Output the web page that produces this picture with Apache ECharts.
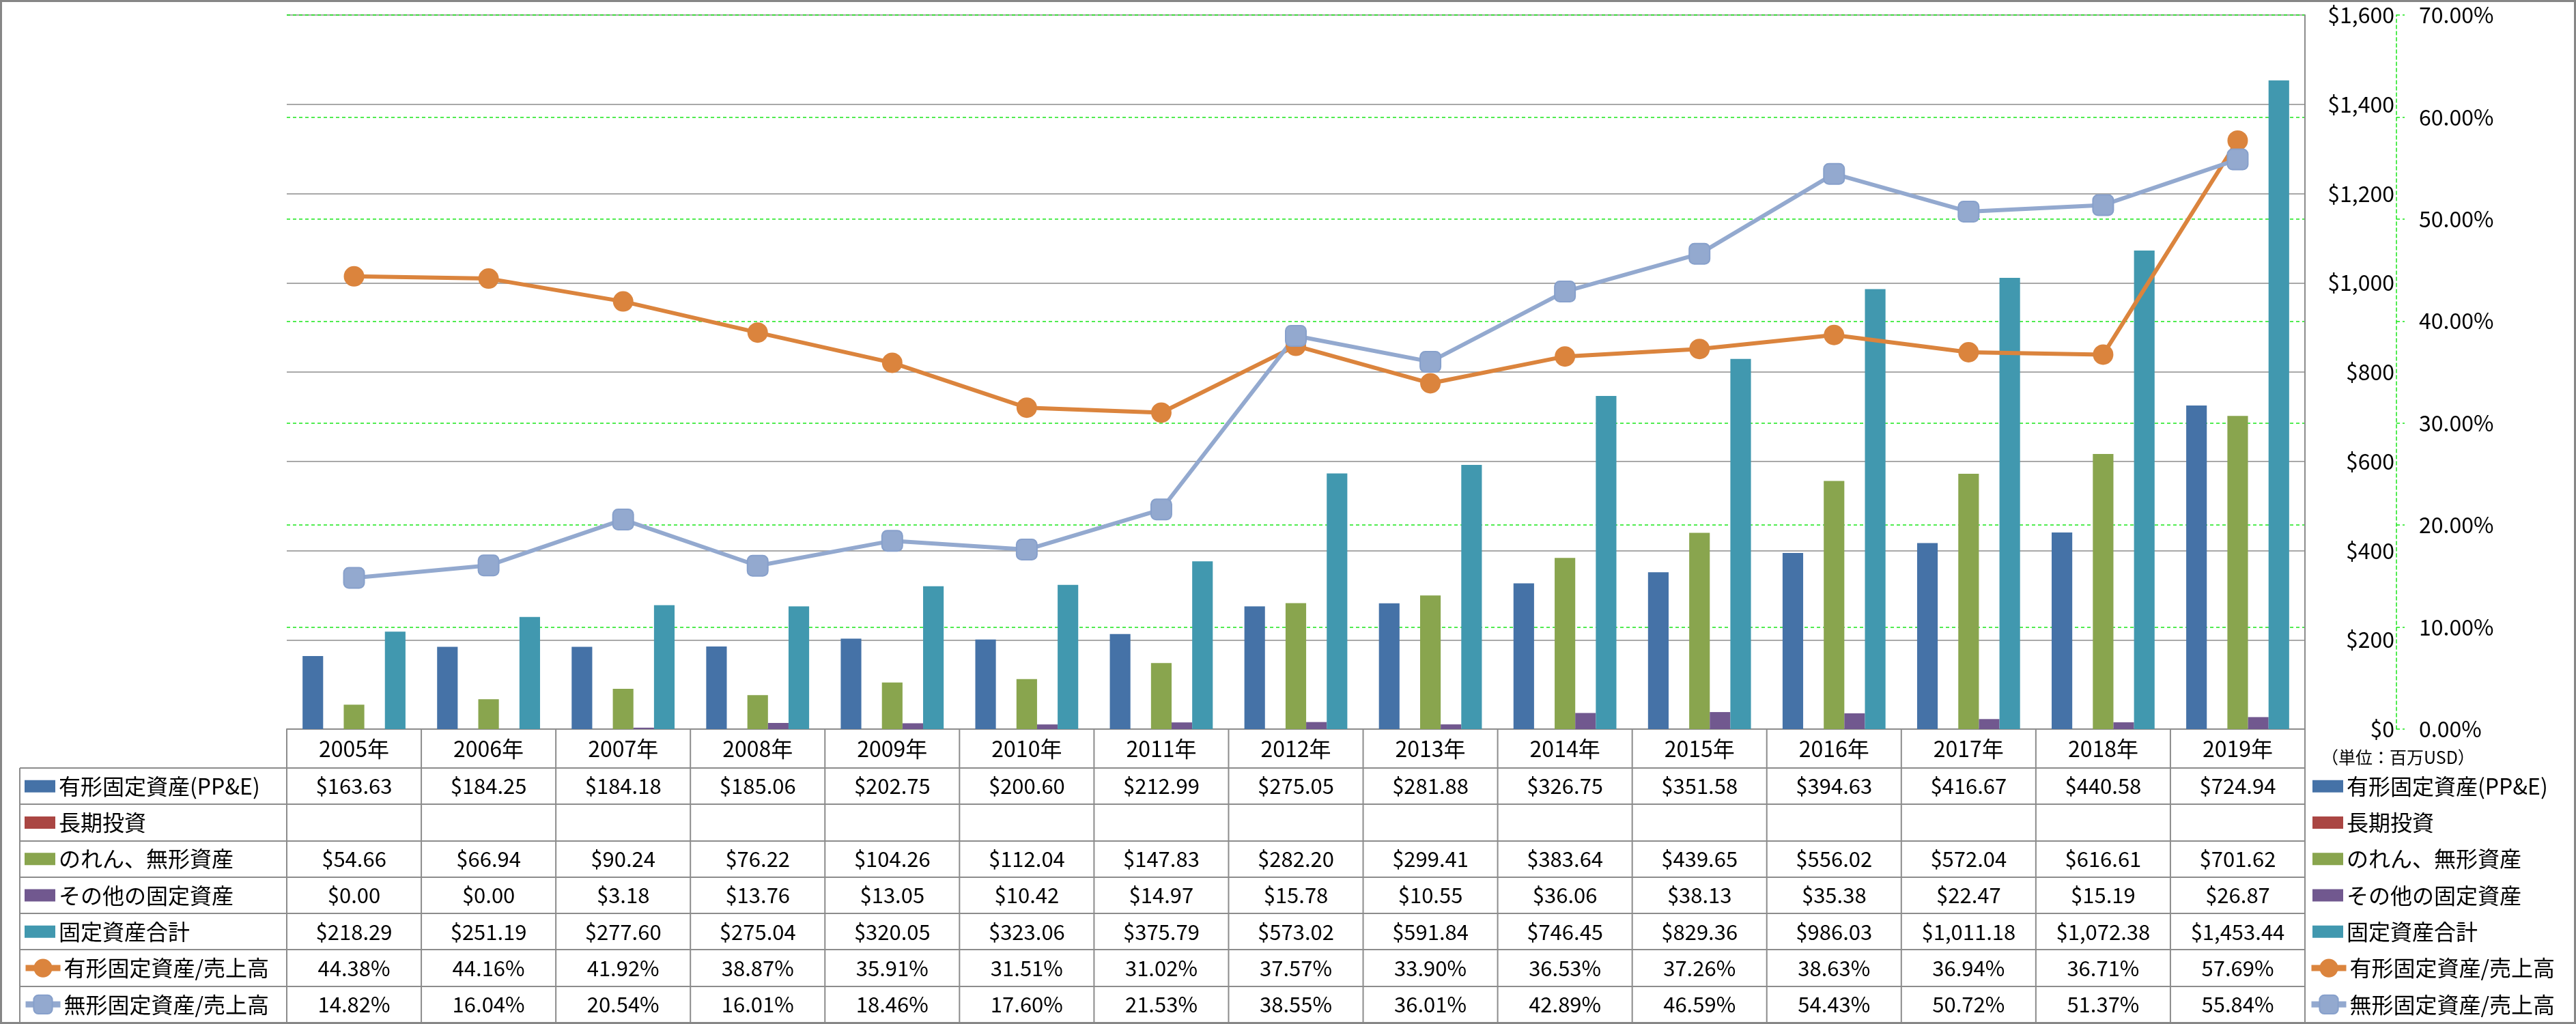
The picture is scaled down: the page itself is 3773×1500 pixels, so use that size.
<!DOCTYPE html>
<html><head><meta charset="utf-8">
<script src="https://cdn.jsdelivr.net/npm/echarts@6/dist/echarts.min.js"></script>
<style>html,body{margin:0;padding:0;background:#fff}#c{width:3773px;height:1500px}</style>
</head><body><div id="c"></div>
<script>
// ---- data ----
const years = ['2005年','2006年','2007年','2008年','2009年','2010年','2011年','2012年','2013年','2014年','2015年','2016年','2017年','2018年','2019年'];
const ppe = [163.63,184.25,184.18,185.06,202.75,200.60,212.99,275.05,281.88,326.75,351.58,394.63,416.67,440.58,724.94];
const longInvest = [null,null,null,null,null,null,null,null,null,null,null,null,null,null,null];
const goodwill = [54.66,66.94,90.24,76.22,104.26,112.04,147.83,282.20,299.41,383.64,439.65,556.02,572.04,616.61,701.62];
const otherFixed = [0.00,0.00,3.18,13.76,13.05,10.42,14.97,15.78,10.55,36.06,38.13,35.38,22.47,15.19,26.87];
const totalFixed = [218.29,251.19,277.60,275.04,320.05,323.06,375.79,573.02,591.84,746.45,829.36,986.03,1011.18,1072.38,1453.44];
const ppeRatio = [44.38,44.16,41.92,38.87,35.91,31.51,31.02,37.57,33.90,36.53,37.26,38.63,36.94,36.71,57.69];
const intangRatio = [14.82,16.04,20.54,16.01,18.46,17.60,21.53,38.55,36.01,42.89,46.59,54.43,50.72,51.37,55.84];
const barNames = ['有形固定資産(PP&E)','長期投資','のれん、無形資産','その他の固定資産','固定資産合計'];
const lineNames = ['有形固定資産/売上高','無形固定資産/売上高'];
const unitLabel = '（単位：百万USD）';

// ---- styles / layout ----
const FONT = "'Noto Sans CJK JP','Noto Sans',sans-serif";
const barColors = ['#4572A7','#AA4643','#89A54E','#71588F','#4198AF'];
const lineColors = ['#DB843D','#93A9CF'];
const W = 3773, H = 1500;
const GL = 420, GR = 3376, GT = 22, AXY = 1068;
const ROW_TOP = 1125, ROW_H = (1498 - 1125) / 7, TABLE_L = 29;
const GRAY = '#8c8c8c', GREEN = '#19e619';

const money = v => v == null ? '' : '$' + v.toLocaleString('en-US', {minimumFractionDigits: 2, maximumFractionDigits: 2});
const pct = v => v == null ? '' : v.toFixed(2) + '%';

const chart = echarts.init(document.getElementById('c'), null, {renderer: 'canvas'});

const barSeries = [ppe, longInvest, goodwill, otherFixed, totalFixed].map((d, i) => ({
  type: 'bar', name: barNames[i], data: d, yAxisIndex: 0,
  barGap: '0%', barCategoryGap: '23.5%',
  itemStyle: {color: barColors[i]}
}));
const lineSeries = [ppeRatio, intangRatio].map((d, i) => ({
  type: 'line', name: lineNames[i], data: d, yAxisIndex: 1,
  symbol: i === 0 ? 'circle' : 'roundRect', symbolSize: 30,
  lineStyle: {width: 6, color: lineColors[i]},
  itemStyle: {color: lineColors[i], borderColor: i === 0 ? lineColors[i] : '#87a0cb', borderWidth: i === 0 ? 0 : 2},
  z: 5
}));

const legendText = {fontSize: 32, color: '#000', lineHeight: 36, fontFamily: FONT};
function barLegend(left) {
  return {data: barNames.map(n => ({name: n, icon: 'rect'})), orient: 'vertical', left: left, top: ROW_TOP + ROW_H / 2 - 18,
    itemWidth: 45, itemHeight: 18, itemGap: ROW_H - 36, padding: 0, selectedMode: false, textStyle: legendText};
}
function lineLegend(left) {
  return {data: lineNames, orient: 'vertical', left: left, top: ROW_TOP + 5.5 * ROW_H - 18,
    itemWidth: 51, itemHeight: 34, itemGap: ROW_H - 36, padding: 0, selectedMode: false, textStyle: legendText,
    lineStyle: {width: 9}};
}

const option = {
  animation: false,
  backgroundColor: '#fff',
  textStyle: {fontFamily: FONT},
  grid: {left: GL, right: W - GR, top: GT, bottom: H - AXY, containLabel: false, outerBoundsMode: 'none'},
  legend: [barLegend(3387), lineLegend(3381), barLegend(36), lineLegend(33)],
  xAxis: {
    type: 'category', data: years,
    axisLine: {show: true, lineStyle: {color: GRAY, width: 2}},
    axisTick: {show: false},
    axisLabel: {interval: 0, fontSize: 32, color: '#000', margin: (ROW_TOP - AXY) / 2, verticalAlign: 'middle', fontFamily: FONT},
    splitLine: {show: false}
  },
  yAxis: [
    {type: 'value', min: 0, max: 1600, interval: 200, position: 'right',
     axisLine: {show: true, lineStyle: {color: GRAY, width: 2}}, axisTick: {show: false},
     axisLabel: {align: 'right', margin: 131, fontSize: 32, color: '#000', fontFamily: FONT,
       formatter: v => '$' + v.toLocaleString('en-US')},
     splitLine: {show: true, lineStyle: {color: GRAY, width: 1.5}}},
    {type: 'value', min: 0, max: 70, interval: 10, position: 'right', offset: 134,
     axisLine: {show: true, lineStyle: {color: GREEN, width: 1.5, type: [5, 4]}},
     axisTick: {show: true, length: 12, lineStyle: {color: GREEN, width: 1.5, type: [5, 4]}},
     axisLabel: {margin: 33, fontSize: 32, color: '#000', fontFamily: FONT, formatter: v => v.toFixed(2) + '%'},
     splitLine: {show: true, lineStyle: {color: GREEN, width: 1.5, type: [5, 4]}}}
  ],
  series: barSeries.concat(lineSeries)
};
chart.setOption(option);

// ---- data table (positions derived from the category axis) ----
const centers = years.map((y, i) => chart.convertToPixel({xAxisIndex: 0}, i));
const colW = centers[1] - centers[0];
const rows = [[ppe, money], [longInvest, money], [goodwill, money], [otherFixed, money], [totalFixed, money], [ppeRatio, pct], [intangRatio, pct]];
const g = [];
const tl = '#8c8c8c';
for (let k = 0; k <= 7; k++) {
  const y = Math.round(ROW_TOP + k * ROW_H);
  g.push({type: 'line', shape: {x1: TABLE_L, y1: y, x2: GR, y2: y}, style: {stroke: tl, lineWidth: 2}, silent: true});
}
g.push({type: 'line', shape: {x1: TABLE_L, y1: ROW_TOP, x2: TABLE_L, y2: 1498}, style: {stroke: tl, lineWidth: 2}});
for (let j = 0; j <= years.length; j++) {
  const x = (j < years.length ? centers[j] - colW / 2 : centers[years.length - 1] + colW / 2);
  g.push({type: 'line', shape: {x1: x, y1: AXY, x2: x, y2: 1498}, style: {stroke: tl, lineWidth: 2}});
}
rows.forEach((r, ri) => {
  const cy = ROW_TOP + (ri + 0.5) * ROW_H;
  r[0].forEach((v, i) => {
    const t = r[1](v);
    if (!t) return;
    g.push({type: 'text', x: centers[i], y: cy, style: {text: t, fill: '#000', font: '31px ' + FONT, align: 'center', verticalAlign: 'middle'}});
  });
});
g.push({type: 'text', x: 3400, y: 1109, style: {text: unitLabel, fill: '#000', font: '25px ' + FONT, align: 'left', verticalAlign: 'middle'}});
g.push({type: 'rect', shape: {x: 1.5, y: 1.5, width: W - 3, height: H - 3}, style: {fill: 'none', stroke: '#868686', lineWidth: 3}, z: 100});
chart.setOption({graphic: g});
</script></body></html>
